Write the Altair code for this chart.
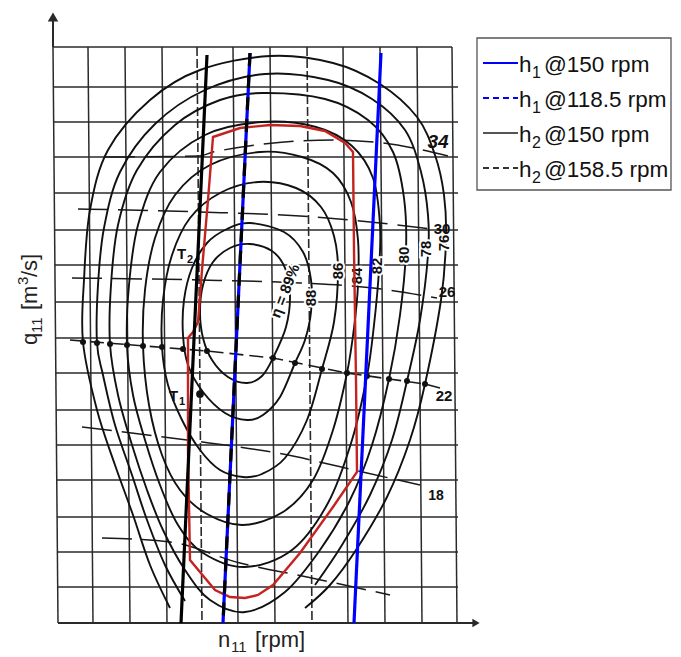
import altair as alt
import pandas as pd

FONT = "Liberation Sans"
W, H = 664, 646

# ---------------- data (image pixel units) ----------------
grid_x_top = [53, 88, 125, 162, 197, 233, 270, 307, 343, 380, 417, 452]
grid_x_dashed = [197, 307]
grid_y = [47, 87, 122, 157, 193, 230, 265, 302, 338, 373, 410, 445, 480, 517, 552, 587, 623]
grid_top, grid_bottom, grid_skew, grid_right = 47, 623, 5, 458

# efficiency contours (eta %) - closed ones
c89 = [(250, 244), (272, 251), (285, 268), (290, 295), (286, 327), (273, 358), (262, 376), (247, 383),
       (228, 377), (212, 360), (203, 338), (200, 312), (203, 285), (213, 262), (230, 248)]
c88 = [(250, 223), (284, 232), (303, 252), (311, 280), (311, 312), (305, 340), (295, 363), (280, 397),
       (263, 415), (247, 420), (225, 413), (203, 392), (188, 365), (183, 335), (184, 300), (192, 268),
       (207, 243), (227, 229)]
c86 = [(258, 182), (296, 188), (321, 207), (334, 236), (338, 270), (334, 322), (322, 369), (307, 420),
       (285, 458), (262, 474), (243, 477), (220, 470), (200, 450), (182, 420), (168, 385), (162, 347),
       (163, 300), (172, 255), (190, 218), (220, 193)]
c84 = [(260, 152), (302, 157), (333, 173), (351, 202), (358, 240), (358, 285), (354, 328), (347, 373),
       (333, 430), (313, 480), (283, 512), (243, 525), (207, 514), (180, 490), (162, 455), (149, 405),
       (143, 346), (145, 290), (155, 238), (175, 195), (210, 165)]
c82 = [(262, 122), (316, 127), (352, 146), (373, 178), (380, 225), (379, 270), (374, 325), (367, 376),
       (352, 440), (328, 503), (292, 550), (245, 567), (203, 553), (178, 525), (160, 485), (145, 440),
       (133, 395), (127, 345), (129, 285), (138, 225), (160, 172), (205, 135)]
c80 = [(263, 93), (325, 99), (368, 120), (393, 152), (404, 198), (406, 250), (400, 315), (389, 379),
       (372, 445), (350, 500), (320, 550), (285, 592), (245, 612), (210, 600), (185, 570), (163, 530),
       (147, 490), (132, 445), (118, 395), (110, 344), (111, 285), (118, 225), (137, 170), (175, 125),
       (220, 100)]
# open ones
c78 = [(185, 601), (165, 565), (147, 520), (132, 475), (115, 425), (103, 375), (97, 343), (98, 285),
       (104, 228), (120, 172), (155, 124), (205, 90), (265, 74), (328, 80), (372, 99), (405, 130),
       (421, 172), (428, 215), (428, 255), (420, 320), (407, 381), (392, 440), (370, 495), (342, 545),
       (315, 585)]
c76 = [(170, 608), (150, 565), (133, 515), (115, 465), (97, 410), (83, 342), (84, 280), (90, 210),
       (108, 150), (150, 100), (200, 70), (270, 56), (333, 63), (380, 84), (417, 117), (435, 155),
       (444, 195), (446, 240), (441, 300), (425, 384), (410, 440), (387, 497), (356, 550), (330, 585),
       (305, 608)]

# guide-vane opening lines
g34 = [(105, 157), (200, 156), (213, 152), (333, 140), (383, 143), (448, 156)]
g30 = [(78, 209), (200, 212), (300, 216), (360, 221), (447, 231)]
g26 = [(72, 278), (200, 280), (300, 283), (373, 288), (437, 298)]
g22 = [(70, 340), (207, 351), (273, 358), (347, 373), (425, 384), (440, 388)]
g18 = [(82, 427), (187, 440), (277, 453), (367, 473), (420, 485)]
g14 = [(102, 538), (170, 542), (240, 563), (307, 577), (390, 595)]

# marked points on opening 22
dots_x = [83, 97, 110, 127, 143, 162, 183, 207, 273, 295, 322, 347, 367, 389, 407, 425]
dots_y = [342, 343, 344, 345, 346, 347, 349, 351, 358, 363, 369, 373, 376, 379, 381, 384]
t1_point = (200, 394)

# operating envelope (red)
envelope = [(213, 137), (240, 128), (270, 125), (300, 126), (325, 131), (345, 143), (353, 152),
            (354, 250), (356, 380), (357, 472), (333, 507), (300, 553), (273, 585), (258, 595),
            (245, 598), (230, 597), (215, 590), (190, 560), (188, 450), (188, 338), (193, 332),
            (198, 322), (202, 270), (208, 200)]

# head lines
h2_150 = [(207, 55), (181, 623)]
h_dashed = [(250, 53), (223, 623)]
h1_150 = [(381, 53), (354, 623)]

contour_labels = ["88", "86", "84", "82", "80", "78", "76"]
contour_lab_x = [311, 338, 357, 377, 404, 426, 444]
contour_lab_y = [298, 271, 276, 266, 255, 249, 243]

open_labels = ["30", "26", "22", "18"]
open_lab_x = [442, 447, 444, 436]
open_lab_y = [229, 292, 396, 496]
open_lab_size = [15, 15, 15, 14]

legend_main = ["h", "h", "h", "h"]
legend_sub = ["1", "1", "2", "2"]
legend_rest = ["@150 rpm", "@118.5 rpm", "@150 rpm", "@158.5 rpm"]
legend_y = [63, 98, 133, 168]
legend_colors = ["#0000ff", "#0000ff", "#555555", "#333333"]
legend_dash = [[1, 0], [6, 4], [1, 0], [6, 4]]
legend_box = (477, 38, 671, 190)

# ---------------- helpers ----------------
XS = alt.Scale(domain=[8, 8 + W], nice=False, zero=False)
YS = alt.Scale(domain=[8, 8 + H], nice=False, zero=False, reverse=True)


def X(f="x"):
    return alt.X(f"{f}:Q", scale=XS, axis=None)


def Y(f="y"):
    return alt.Y(f"{f}:Q", scale=YS, axis=None)


def path_df(named):
    rows = []
    for name, pts in named.items():
        for i, (x, y) in enumerate(pts):
            rows.append({"name": name, "i": i, "x": x, "y": y})
    return pd.DataFrame(rows)


def line_layer(df, interp, color, width, dash=None):
    kw = dict(interpolate=interp, color=color, strokeWidth=width, strokeCap="butt")
    if dash:
        kw["strokeDash"] = dash
    return alt.Chart(df).mark_line(**kw).encode(
        x=X(), y=Y(), detail="name:N", order="i:Q")


def text_layer(pieces, angle=0, weight="normal", color="#111111", align="left", baseline="alphabetic"):
    df = pd.DataFrame(pieces, columns=["t", "x", "y", "s"])
    return alt.Chart(df).mark_text(font=FONT, fontWeight=weight, fill=color, angle=angle,
                                   align=align, baseline=baseline).encode(
        x=X(), y=Y(), text="t:N", size=alt.Size("s:Q", scale=None, legend=None))


layers = []

# grid: horizontal
hdf = pd.DataFrame({"y": grid_y,
                    "xl": [53 + grid_skew * (y - grid_top) / (grid_bottom - grid_top) for y in grid_y],
                    "xr": [grid_right if y != grid_top else 452 for y in grid_y]})
hdf.loc[hdf["y"] == grid_bottom, "xr"] = 474
layers.append(alt.Chart(hdf).mark_rule(color="#2a2a2a", strokeWidth=1.5).encode(
    x=X("xl"), x2=alt.X2("xr"), y=Y("y")))

# grid: vertical
solid_x = [x for x in grid_x_top if x not in grid_x_dashed]
vdf = pd.DataFrame({"xt": solid_x, "xb": [x + grid_skew for x in solid_x],
                    "yt": grid_top, "yb": grid_bottom})
layers.append(alt.Chart(vdf).mark_rule(color="#2a2a2a", strokeWidth=1.5).encode(
    x=X("xt"), x2=alt.X2("xb"), y=Y("yt"), y2=alt.Y2("yb")))
vddf = pd.DataFrame({"xt": grid_x_dashed, "xb": [x + grid_skew for x in grid_x_dashed],
                     "yt": grid_top, "yb": grid_bottom})
layers.append(alt.Chart(vddf).mark_rule(color="#2a2a2a", strokeWidth=1.6, strokeDash=[9, 3]).encode(
    x=X("xt"), x2=alt.X2("xb"), y=Y("yt"), y2=alt.Y2("yb")))

# axes with arrows
adf = pd.DataFrame({"x": [53, 58], "x2": [53, 474], "y": [14, 623], "y2": [47, 623]})
layers.append(alt.Chart(adf).mark_rule(color="#2a2a2a", strokeWidth=2).encode(
    x=X("x"), x2=alt.X2("x2"), y=Y("y"), y2=alt.Y2("y2")))
layers.append(alt.Chart(pd.DataFrame({"x": [53], "y": [17]})).mark_point(
    shape="triangle-up", filled=True, size=110, color="#2a2a2a", opacity=1).encode(x=X(), y=Y()))
layers.append(alt.Chart(pd.DataFrame({"x": [476], "y": [623]})).mark_point(
    shape="triangle-right", filled=True, size=70, color="#2a2a2a", opacity=1).encode(x=X(), y=Y()))

# guide-vane lines
gdf = path_df({"34": g34, "30": g30, "26": g26, "18": g18, "14": g14})
layers.append(line_layer(gdf, "monotone", "#1a1a1a", 1.5, [30, 10]))
layers.append(line_layer(path_df({"22": g22}), "linear", "#1a1a1a", 1.6, [14, 6]))

# contours
layers.append(line_layer(path_df({"89": c89, "88": c88, "86": c86, "84": c84, "82": c82, "80": c80}),
                         "cardinal-closed", "#111111", 1.9))
layers.append(line_layer(path_df({"78": c78, "76": c76}), "cardinal", "#111111", 1.9))

# dots
ddf = pd.DataFrame({"x": dots_x + [t1_point[0]], "y": dots_y + [t1_point[1]],
                    "s": [36] * len(dots_x) + [60]})
layers.append(alt.Chart(ddf).mark_circle(color="#111111", opacity=1).encode(
    x=X(), y=Y(), size=alt.Size("s:Q", scale=None, legend=None)))

# contour labels (with white halo)
cl = pd.DataFrame({"t": contour_labels, "x": contour_lab_x, "y": contour_lab_y})
for halo in (True, False):
    kw = dict(angle=270, font=FONT, fontSize=15, fontWeight="bold", align="center", baseline="middle")
    if halo:
        kw.update(fill="white", stroke="white", strokeWidth=4)
    else:
        kw.update(fill="#111111")
    layers.append(alt.Chart(cl).mark_text(**kw).encode(x=X(), y=Y(), text="t:N"))

eta = pd.DataFrame({"t": ["\u03b7 = 89%"], "x": [285], "y": [291]})
for halo in (True, False):
    kw = dict(angle=291, font=FONT, fontSize=15, fontWeight="bold", align="center", baseline="middle")
    if halo:
        kw.update(fill="white", stroke="white", strokeWidth=4)
    else:
        kw.update(fill="#111111")
    layers.append(alt.Chart(eta).mark_text(**kw).encode(x=X(), y=Y(), text="t:N"))

ol = pd.DataFrame({"t": open_labels, "x": open_lab_x, "y": open_lab_y, "s": open_lab_size})
layers.append(alt.Chart(ol).mark_text(font=FONT, fontWeight="bold", fill="#111111",
                                      align="center", baseline="middle").encode(
    x=X(), y=Y(), text="t:N", size=alt.Size("s:Q", scale=None, legend=None)))
layers.append(alt.Chart(pd.DataFrame({"t": ["34"], "x": [438], "y": [142]})).mark_text(
    font=FONT, fontSize=19, fontStyle="italic", fontWeight="bold", fill="#111111",
    align="center", baseline="middle").encode(x=X(), y=Y(), text="t:N"))

# T1 / T2 labels
layers.append(text_layer([("T", 177, 259, 15), ("2", 187, 263, 11),
                          ("T", 169, 401, 15), ("1", 179, 405, 11)], weight="bold"))

# operating envelope
layers.append(line_layer(path_df({"env": envelope}), "linear-closed", "#c42420", 2.4))

# head lines
layers.append(line_layer(path_df({"h2": h2_150}), "linear", "#000000", 3.2))
layers.append(line_layer(path_df({"hb": h_dashed}), "linear", "#0000ff", 3.2))
layers.append(line_layer(path_df({"hk": h_dashed}), "linear", "#000000", 3.2, [13, 9]))
layers.append(line_layer(path_df({"h1": h1_150}), "linear", "#0000ff", 3.2))

# axis titles (subscripts / superscripts set as separate pieces)
layers.append(text_layer([("n", 218, 647, 22), ("11", 231, 652, 15), ("[rpm]", 255, 647, 22)],
                         color="#222222"))
layers.append(text_layer([("q", 37, 345, 22), ("11", 42, 333, 15), ("[m", 37, 310, 22),
                          ("3", 28, 285, 15), ("/s]", 37, 277, 22)], angle=270, color="#222222"))

# legend
bx = pd.DataFrame({"x": [legend_box[0]], "y": [legend_box[1]], "x2": [legend_box[2]], "y2": [legend_box[3]]})
layers.append(alt.Chart(bx).mark_rect(fill="white", stroke="#555555", strokeWidth=1.3).encode(
    x=X("x"), x2=alt.X2("x2"), y=Y("y"), y2=alt.Y2("y2")))
for yy, col, dash in zip(legend_y, legend_colors, legend_dash):
    ld = pd.DataFrame({"x": [483], "x2": [518], "y": [yy]})
    layers.append(alt.Chart(ld).mark_rule(color=col, strokeWidth=2, strokeDash=dash).encode(
        x=X("x"), x2=alt.X2("x2"), y=Y("y")))
pieces = []
for m, s, r, yy in zip(legend_main, legend_sub, legend_rest, legend_y):
    pieces += [(m, 519, yy + 9, 22.5), (s, 532, yy + 15, 16), (r, 544, yy + 9, 22.5)]
layers.append(text_layer(pieces))

chart = alt.layer(*layers).properties(width=W, height=H, padding=0).configure_view(stroke=None)
chart.save("out.html", embed_options={"renderer": "svg", "actions": False})
